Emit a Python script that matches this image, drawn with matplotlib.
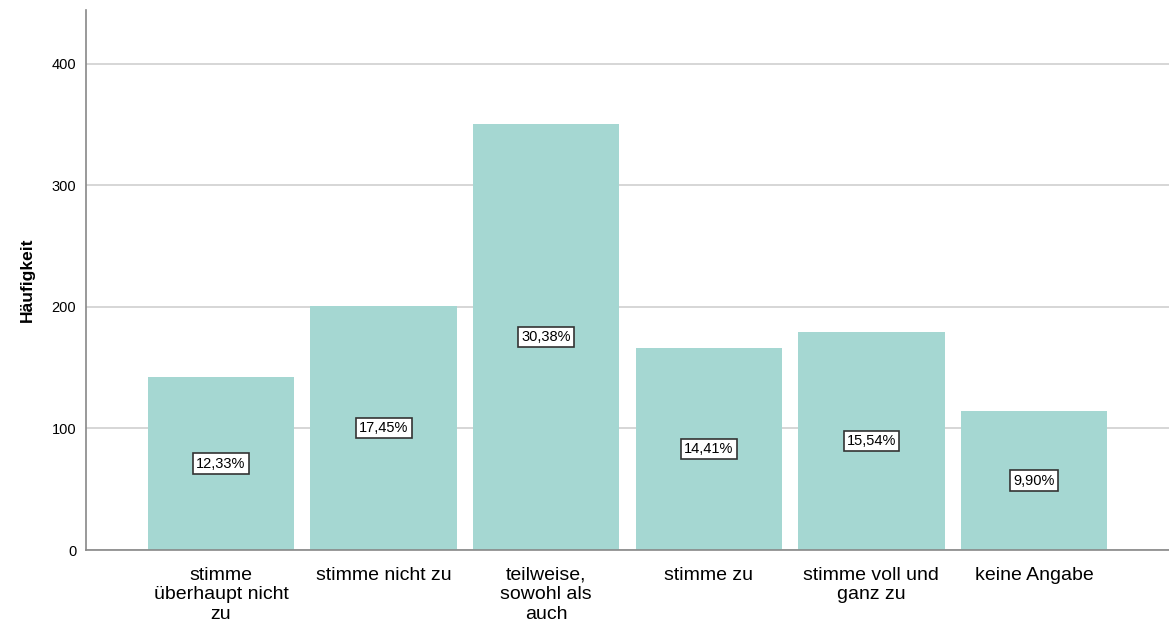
import matplotlib
matplotlib.use("Agg")
import matplotlib.pyplot as plt

categories = ["stimme\nüberhaupt nicht\nzu", "stimme nicht zu", "teilweise,\nsowohl als\nauch",
              "stimme zu", "stimme voll und\nganz zu", "keine Angabe"]
counts = [142, 201, 350, 166, 179, 114]
percent_labels = ["12,33%", "17,45%", "30,38%", "14,41%", "15,54%", "9,90%"]
yticks = [0, 100, 200, 300, 400]

plt.rcParams['font.family'] = ['Liberation Sans', 'DejaVu Sans']

fig = plt.figure(figsize=(11.69, 6.28), dpi=100)
ax = fig.add_axes([0.0736, 0.1242, 0.9264, 0.8598])

x = list(range(len(categories)))
ax.bar(x, counts, width=0.9, color="#A5D7D2", zorder=2)
for xi, c, lab in zip(x, counts, percent_labels):
    ax.text(xi, c / 2, lab, ha="center", va="center", fontsize=10.5, zorder=3,
            bbox=dict(boxstyle="square,pad=0.22", facecolor="white", edgecolor="#333333", linewidth=1.2))

ax.set_xlim(-0.83, 5.83)
ax.set_ylim(0, 444)
ax.set_yticks(yticks)
ax.set_yticklabels([str(v) for v in yticks], fontsize=10.5)
ax.set_xticks(x)
ax.set_xticklabels(categories, fontsize=14, linespacing=1.2)
ax.tick_params(axis="y", length=0, pad=7)
ax.tick_params(axis="x", length=0, pad=12)
ax.grid(axis="y", color="#D0D0D0", linewidth=1.2, zorder=0)
ax.set_axisbelow(True)
for s in ["top", "right"]:
    ax.spines[s].set_visible(False)
for s in ["left", "bottom"]:
    ax.spines[s].set_color("#888888")
    ax.spines[s].set_linewidth(1.2)
ax.set_ylabel("Häufigkeit", fontsize=12.5, fontweight="bold", labelpad=12)

fig.savefig("out.png", dpi=100)
